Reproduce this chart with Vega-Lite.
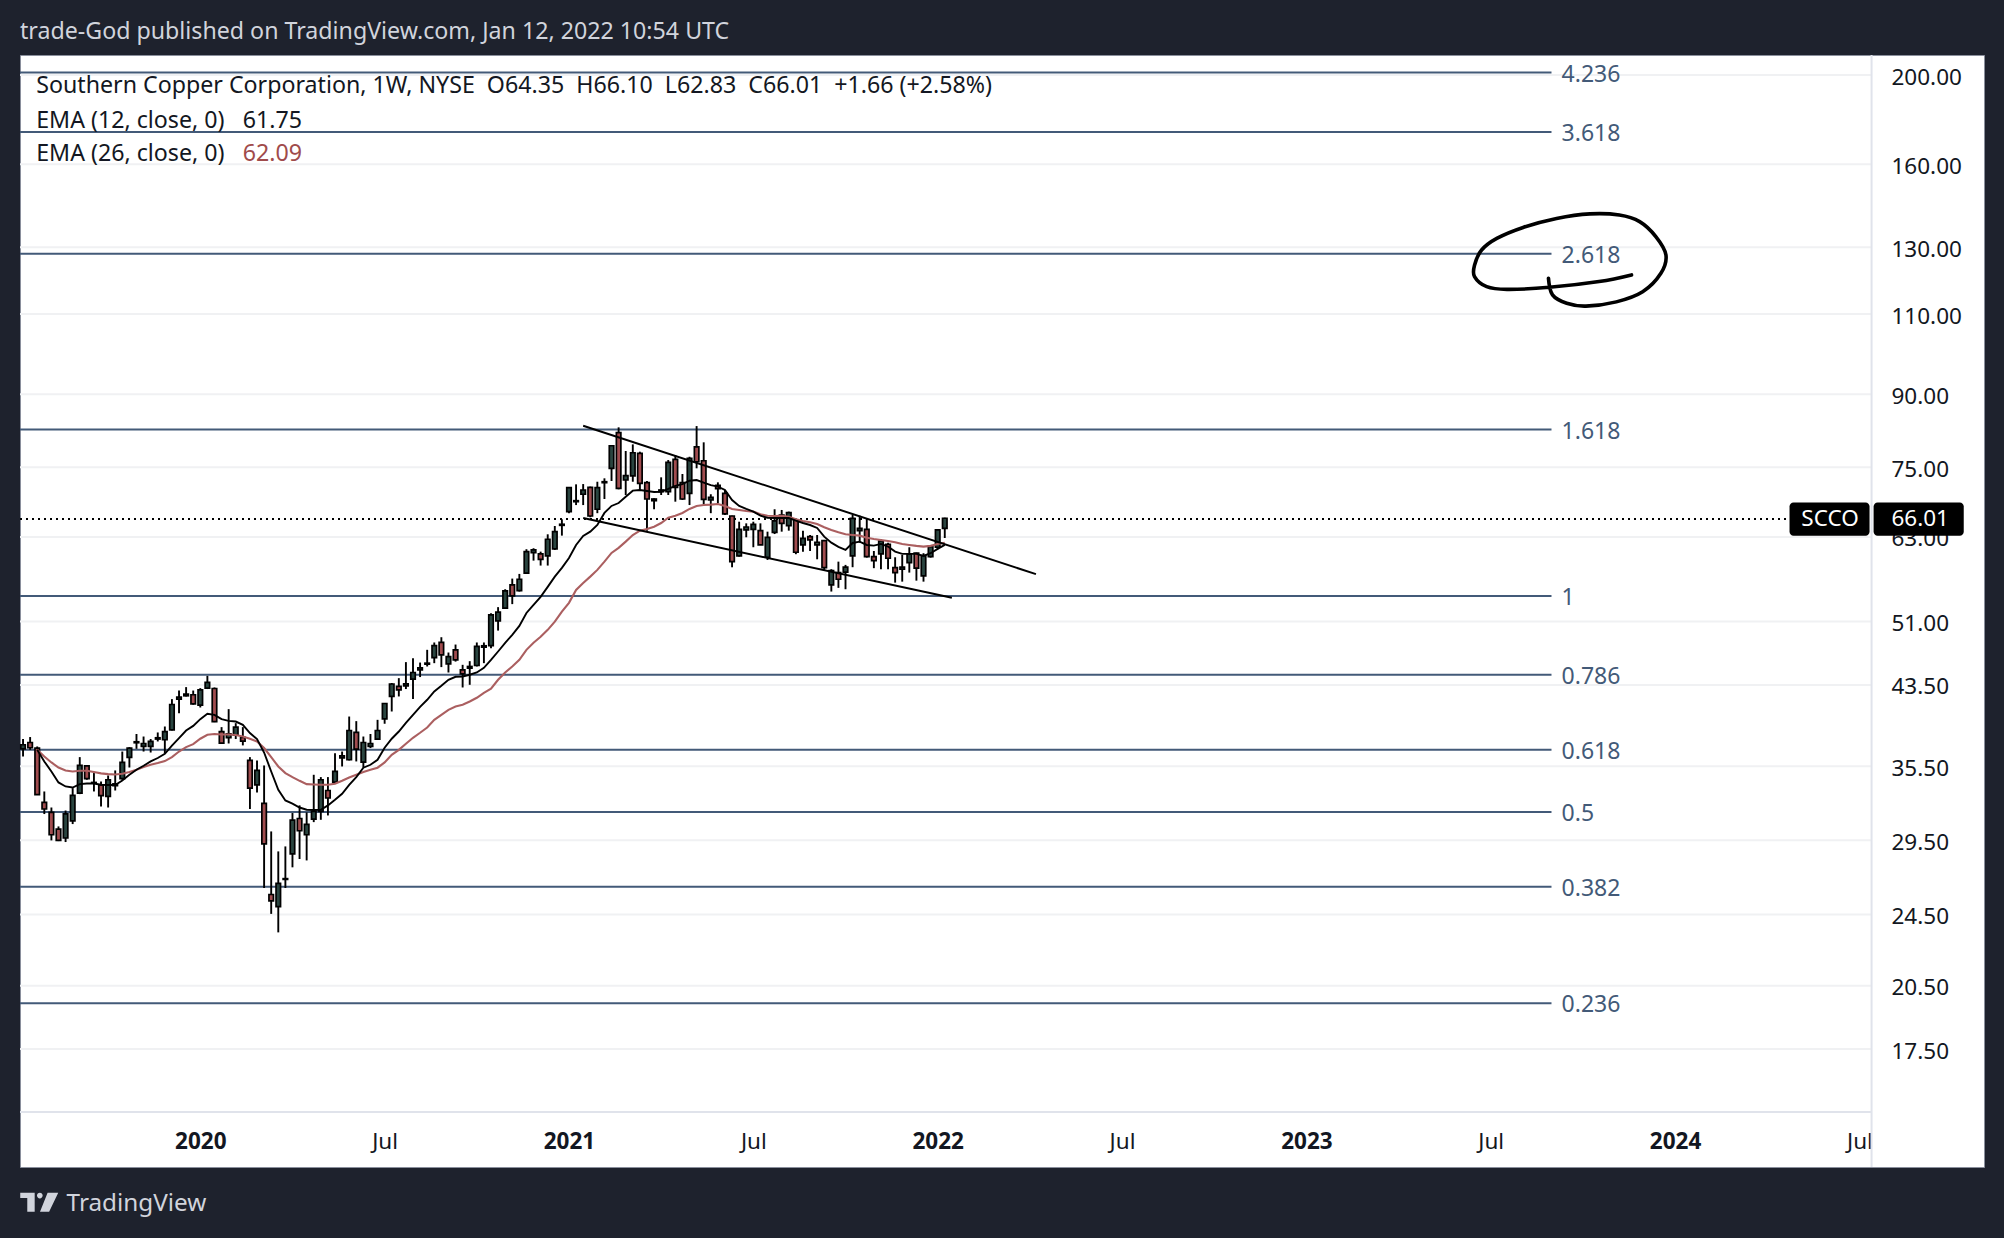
{"$schema":"https://vega.github.io/schema/vega-lite/v6.json","width":1964,"height":1112,"autosize":"none","padding":{"left":20,"top":55,"right":20,"bottom":71},"background":"#1e222d","view":{"fill":"#ffffff","stroke":"#8a8f9c","strokeWidth":1},
"title":{"text":"trade-God published on TradingView.com, Jan 12, 2022 10:54 UTC","anchor":"start","frame":"group","font":"Noto Sans","fontSize":23.2,"fontWeight":"normal","color":"#d1d4dc","offset":10},
"config":{"text":{"font":"Noto Sans"},"axis":{"labelFont":"Noto Sans","labelFontSize":22.5,"labelColor":"#131722","ticks":false,"domain":false,"grid":false,"title":null}},
"datasets":{
"grid":[{"price":200,"start":"2019-07-12","end":"2024-07-13"},{"price":160,"start":"2019-07-12","end":"2024-07-13"},{"price":130,"start":"2019-07-12","end":"2024-07-13"},{"price":110,"start":"2019-07-12","end":"2024-07-13"},{"price":90,"start":"2019-07-12","end":"2024-07-13"},{"price":75,"start":"2019-07-12","end":"2024-07-13"},{"price":63,"start":"2019-07-12","end":"2024-07-13"},{"price":51,"start":"2019-07-12","end":"2024-07-13"},{"price":43.5,"start":"2019-07-12","end":"2024-07-13"},{"price":35.5,"start":"2019-07-12","end":"2024-07-13"},{"price":29.5,"start":"2019-07-12","end":"2024-07-13"},{"price":24.5,"start":"2019-07-12","end":"2024-07-13"},{"price":20.5,"start":"2019-07-12","end":"2024-07-13"},{"price":17.5,"start":"2019-07-12","end":"2024-07-13"}],
"fib":[{"level":"4.236","price":201.2,"start":"2019-07-12","end":"2023-09-01","label":"2023-09-11"},{"level":"3.618","price":173.4,"start":"2019-07-12","end":"2023-09-01","label":"2023-09-11"},{"level":"2.618","price":127.9,"start":"2019-07-12","end":"2023-09-01","label":"2023-09-11"},{"level":"1.618","price":82.4,"start":"2019-07-12","end":"2023-09-01","label":"2023-09-11"},{"level":"1","price":54.33,"start":"2019-07-12","end":"2023-09-01","label":"2023-09-11"},{"level":"0.786","price":44.62,"start":"2019-07-12","end":"2023-09-01","label":"2023-09-11"},{"level":"0.618","price":37.0,"start":"2019-07-12","end":"2023-09-01","label":"2023-09-11"},{"level":"0.5","price":31.66,"start":"2019-07-12","end":"2023-09-01","label":"2023-09-11"},{"level":"0.382","price":26.27,"start":"2019-07-12","end":"2023-09-01","label":"2023-09-11"},{"level":"0.236","price":19.62,"start":"2019-07-12","end":"2023-09-01","label":"2023-09-11"}],
"candles":[
{"date":"2019-07-15","open":37.08,"high":38.0,"low":36.38,"close":37.46,"dir":"up"},
{"date":"2019-07-22","open":37.67,"high":38.19,"low":36.99,"close":37.18,"dir":"down"},
{"date":"2019-07-29","open":37.15,"high":37.3,"low":33.06,"close":33.06,"dir":"down","ema12":36.99,"ema26":36.99},
{"date":"2019-08-05","open":32.43,"high":33.33,"low":31.5,"close":31.9,"dir":"down","ema12":35.93,"ema26":36.38},
{"date":"2019-08-12","open":31.63,"high":32.02,"low":29.49,"close":29.91,"dir":"down","ema12":35.04,"ema26":35.84},
{"date":"2019-08-19","open":30.34,"high":30.54,"low":29.44,"close":29.49,"dir":"down","ema12":34.09,"ema26":35.39},
{"date":"2019-08-26","open":29.67,"high":31.78,"low":29.37,"close":31.52,"dir":"up","ema12":33.75,"ema26":35.13},
{"date":"2019-09-02","open":30.97,"high":33.61,"low":30.72,"close":33.0,"dir":"up","ema12":33.66,"ema26":35.04},
{"date":"2019-09-09","open":33.19,"high":36.32,"low":33.11,"close":35.57,"dir":"up","ema12":33.95,"ema26":35.1},
{"date":"2019-09-16","open":35.54,"high":35.57,"low":34.32,"close":34.41,"dir":"down","ema12":34.0,"ema26":35.1},
{"date":"2019-09-23","open":34.03,"high":34.9,"low":33.33,"close":34.09,"dir":"up","ema12":34.0,"ema26":34.99},
{"date":"2019-09-30","open":33.89,"high":34.17,"low":32.11,"close":32.98,"dir":"down","ema12":33.89,"ema26":34.87},
{"date":"2019-10-07","open":32.92,"high":34.69,"low":32.02,"close":34.32,"dir":"up","ema12":33.87,"ema26":34.81},
{"date":"2019-10-14","open":33.81,"high":35.13,"low":33.41,"close":33.98,"dir":"up","ema12":33.87,"ema26":34.78},
{"date":"2019-10-21","open":34.41,"high":36.83,"low":34.32,"close":35.84,"dir":"up","ema12":34.26,"ema26":34.84},
{"date":"2019-10-28","open":36.29,"high":37.24,"low":35.39,"close":37.15,"dir":"up","ema12":34.75,"ema26":34.99},
{"date":"2019-11-04","open":37.65,"high":38.48,"low":37.08,"close":37.74,"dir":"up","ema12":35.19,"ema26":35.19},
{"date":"2019-11-11","open":37.3,"high":38.24,"low":36.83,"close":37.58,"dir":"up","ema12":35.54,"ema26":35.43},
{"date":"2019-11-18","open":37.3,"high":38.0,"low":36.74,"close":37.77,"dir":"up","ema12":35.93,"ema26":35.63},
{"date":"2019-11-25","open":38.0,"high":38.63,"low":37.77,"close":38.12,"dir":"up","ema12":36.24,"ema26":35.78},
{"date":"2019-12-02","open":37.93,"high":39.21,"low":36.68,"close":38.72,"dir":"up","ema12":36.62,"ema26":35.96},
{"date":"2019-12-09","open":38.89,"high":41.99,"low":38.82,"close":41.43,"dir":"up","ema12":37.37,"ema26":36.32},
{"date":"2019-12-16","open":41.99,"high":42.9,"low":40.54,"close":42.2,"dir":"up","ema12":38.09,"ema26":36.83},
{"date":"2019-12-23","open":42.34,"high":43.27,"low":42.27,"close":42.52,"dir":"up","ema12":38.82,"ema26":37.24},
{"date":"2019-12-30","open":42.45,"high":42.9,"low":41.4,"close":41.5,"dir":"down","ema12":39.27,"ema26":37.52},
{"date":"2020-01-06","open":41.37,"high":43.16,"low":41.12,"close":42.98,"dir":"up","ema12":39.94,"ema26":38.03},
{"date":"2020-01-13","open":43.16,"high":44.51,"low":43.06,"close":43.78,"dir":"up","ema12":40.48,"ema26":38.41},
{"date":"2020-01-20","open":43.12,"high":43.23,"low":39.64,"close":39.7,"dir":"down","ema12":40.37,"ema26":38.48},
{"date":"2020-01-27","open":38.72,"high":39.15,"low":37.61,"close":37.61,"dir":"down","ema12":39.94,"ema26":38.44},
{"date":"2020-02-03","open":38.12,"high":40.95,"low":37.58,"close":38.5,"dir":"up","ema12":39.77,"ema26":38.44},
{"date":"2020-02-10","open":38.38,"high":39.54,"low":38.0,"close":39.15,"dir":"up","ema12":39.7,"ema26":38.38},
{"date":"2020-02-17","open":38.15,"high":39.15,"low":37.4,"close":37.8,"dir":"down","ema12":39.38,"ema26":38.24},
{"date":"2020-02-24","open":36.02,"high":36.32,"low":31.9,"close":33.61,"dir":"down","ema12":38.57,"ema26":38.03},
{"date":"2020-03-02","open":33.89,"high":36.02,"low":33.25,"close":35.13,"dir":"up","ema12":38.0,"ema26":37.77},
{"date":"2020-03-09","open":32.35,"high":35.57,"low":26.18,"close":29.24,"dir":"down","ema12":36.74,"ema26":37.15},
{"date":"2020-03-16","open":25.76,"high":30.16,"low":24.54,"close":25.35,"dir":"down","ema12":35.04,"ema26":36.32},
{"date":"2020-03-23","open":24.99,"high":28.69,"low":23.43,"close":26.49,"dir":"up","ema12":33.47,"ema26":35.48},
{"date":"2020-03-30","open":26.75,"high":29.05,"low":26.18,"close":26.8,"dir":"up","ema12":32.59,"ema26":34.9},
{"date":"2020-04-06","open":28.52,"high":31.58,"low":27.57,"close":31.03,"dir":"up","ema12":32.33,"ema26":34.55},
{"date":"2020-04-13","open":31.15,"high":32.19,"low":28.15,"close":30.21,"dir":"down","ema12":32.02,"ema26":34.23},
{"date":"2020-04-20","open":29.91,"high":31.63,"low":28.05,"close":30.69,"dir":"up","ema12":31.84,"ema26":33.95},
{"date":"2020-04-27","open":31.1,"high":34.75,"low":30.87,"close":31.71,"dir":"up","ema12":31.82,"ema26":33.92},
{"date":"2020-05-04","open":31.71,"high":34.55,"low":31.05,"close":34.32,"dir":"up","ema12":31.84,"ema26":33.89},
{"date":"2020-05-11","open":33.41,"high":34.55,"low":31.39,"close":32.79,"dir":"down","ema12":32.19,"ema26":33.89},
{"date":"2020-05-18","open":34.12,"high":36.68,"low":34.03,"close":35.04,"dir":"up","ema12":32.65,"ema26":33.98},
{"date":"2020-05-25","open":36.26,"high":36.83,"low":35.48,"close":36.44,"dir":"up","ema12":33.14,"ema26":34.23},
{"date":"2020-06-01","open":36.08,"high":40.2,"low":36.02,"close":38.82,"dir":"up","ema12":33.89,"ema26":34.52},
{"date":"2020-06-08","open":38.63,"high":39.74,"low":35.93,"close":37.06,"dir":"down","ema12":34.55,"ema26":34.75},
{"date":"2020-06-15","open":35.87,"high":38.24,"low":35.39,"close":37.67,"dir":"up","ema12":35.37,"ema26":34.99},
{"date":"2020-06-22","open":37.3,"high":38.48,"low":37.15,"close":37.58,"dir":"up","ema12":35.63,"ema26":35.19},
{"date":"2020-06-29","open":38.0,"high":39.87,"low":38.0,"close":38.82,"dir":"up","ema12":36.08,"ema26":35.37},
{"date":"2020-07-06","open":39.97,"high":41.53,"low":39.48,"close":41.53,"dir":"up","ema12":37.18,"ema26":35.84},
{"date":"2020-07-13","open":42.27,"high":43.72,"low":40.71,"close":43.61,"dir":"up","ema12":38.03,"ema26":36.53},
{"date":"2020-07-20","open":43.34,"high":44.25,"low":42.27,"close":42.98,"dir":"down","ema12":38.72,"ema26":36.99},
{"date":"2020-07-27","open":43.41,"high":46.06,"low":43.06,"close":43.63,"dir":"up","ema12":39.57,"ema26":37.55},
{"date":"2020-08-03","open":44.15,"high":46.51,"low":41.99,"close":44.88,"dir":"up","ema12":40.37,"ema26":38.12},
{"date":"2020-08-10","open":45.18,"high":46.01,"low":44.37,"close":45.41,"dir":"up","ema12":41.19,"ema26":38.6},
{"date":"2020-08-17","open":45.83,"high":47.5,"low":45.56,"close":45.94,"dir":"up","ema12":41.92,"ema26":39.11},
{"date":"2020-08-24","open":46.59,"high":48.38,"low":45.94,"close":48.01,"dir":"up","ema12":42.8,"ema26":39.87},
{"date":"2020-08-31","open":48.38,"high":49.02,"low":45.49,"close":46.9,"dir":"down","ema12":43.41,"ema26":40.37},
{"date":"2020-09-07","open":45.86,"high":47.18,"low":44.88,"close":46.7,"dir":"up","ema12":44.07,"ema26":40.88},
{"date":"2020-09-14","open":47.5,"high":48.13,"low":46.12,"close":46.32,"dir":"down","ema12":44.4,"ema26":41.22},
{"date":"2020-09-21","open":45.18,"high":45.75,"low":43.23,"close":44.73,"dir":"down","ema12":44.44,"ema26":41.4},
{"date":"2020-09-28","open":45.37,"high":46.17,"low":43.52,"close":45.56,"dir":"up","ema12":44.63,"ema26":41.74},
{"date":"2020-10-05","open":45.67,"high":48.38,"low":45.56,"close":47.9,"dir":"up","ema12":44.88,"ema26":42.13},
{"date":"2020-10-12","open":47.82,"high":48.38,"low":45.94,"close":47.98,"dir":"up","ema12":45.41,"ema26":42.66},
{"date":"2020-10-19","open":48.01,"high":52.06,"low":47.7,"close":51.84,"dir":"up","ema12":46.32,"ema26":43.09},
{"date":"2020-10-26","open":51.06,"high":52.85,"low":49.84,"close":52.19,"dir":"up","ema12":47.3,"ema26":44.07},
{"date":"2020-11-02","open":52.71,"high":55.27,"low":52.71,"close":55.04,"dir":"up","ema12":48.34,"ema26":44.88},
{"date":"2020-11-09","open":55.87,"high":56.76,"low":53.25,"close":54.36,"dir":"down","ema12":49.31,"ema26":45.56},
{"date":"2020-11-16","open":55.08,"high":57.43,"low":54.95,"close":56.67,"dir":"up","ema12":50.43,"ema26":46.32},
{"date":"2020-11-23","open":57.53,"high":61.09,"low":57.53,"close":60.72,"dir":"up","ema12":52.09,"ema26":47.5},
{"date":"2020-11-30","open":60.57,"high":61.24,"low":59.37,"close":60.98,"dir":"up","ema12":53.15,"ema26":48.34},
{"date":"2020-12-07","open":60.38,"high":60.72,"low":58.64,"close":59.57,"dir":"down","ema12":54.22,"ema26":49.07},
{"date":"2020-12-14","open":60.07,"high":63.41,"low":58.64,"close":62.63,"dir":"up","ema12":55.6,"ema26":49.93},
{"date":"2020-12-21","open":61.13,"high":64.74,"low":60.98,"close":63.83,"dir":"up","ema12":57.04,"ema26":50.97},
{"date":"2020-12-28","open":64.85,"high":65.83,"low":63.2,"close":65.02,"dir":"up","ema12":58.3,"ema26":52.27},
{"date":"2021-01-04","open":67.11,"high":71.32,"low":66.85,"close":71.25,"dir":"up","ema12":59.77,"ema26":53.42},
{"date":"2021-01-11","open":68.8,"high":71.85,"low":68.22,"close":68.97,"dir":"up","ema12":61.74,"ema26":55.18},
{"date":"2021-01-18","open":70.09,"high":71.9,"low":68.22,"close":70.84,"dir":"up","ema12":63.15,"ema26":56.15},
{"date":"2021-01-25","open":71.32,"high":71.44,"low":66.17,"close":66.38,"dir":"down","ema12":63.83,"ema26":57.04},
{"date":"2021-02-01","open":67.51,"high":72.32,"low":66.85,"close":71.25,"dir":"up","ema12":64.9,"ema26":58.01},
{"date":"2021-02-08","open":72.15,"high":72.94,"low":69.26,"close":72.32,"dir":"up","ema12":66.89,"ema26":59.22},
{"date":"2021-02-15","open":74.79,"high":79.27,"low":72.45,"close":79.13,"dir":"up","ema12":68.07,"ema26":60.52},
{"date":"2021-02-22","open":81.75,"high":82.86,"low":70.96,"close":71.14,"dir":"down","ema12":68.57,"ema26":61.29},
{"date":"2021-03-01","open":72.63,"high":78.1,"low":69.96,"close":73.42,"dir":"up","ema12":69.66,"ema26":62.26},
{"date":"2021-03-08","open":73.37,"high":79.4,"low":72.32,"close":77.76,"dir":"up","ema12":70.72,"ema26":63.3},
{"date":"2021-03-15","open":77.64,"high":77.96,"low":70.84,"close":72.03,"dir":"down","ema12":70.84,"ema26":63.99},
{"date":"2021-03-22","open":72.15,"high":72.45,"low":63.99,"close":69.26,"dir":"down","ema12":70.66,"ema26":64.26},
{"date":"2021-03-29","open":68.97,"high":69.38,"low":67.51,"close":69.26,"dir":"up","ema12":70.49,"ema26":64.63},
{"date":"2021-04-05","open":70.54,"high":73.12,"low":69.96,"close":70.84,"dir":"up","ema12":70.54,"ema26":65.23},
{"date":"2021-04-12","open":70.54,"high":76.35,"low":69.96,"close":75.9,"dir":"up","ema12":71.02,"ema26":66.1},
{"date":"2021-04-19","open":76.48,"high":77.31,"low":68.8,"close":71.32,"dir":"down","ema12":71.56,"ema26":66.43},
{"date":"2021-04-26","open":72.15,"high":73.73,"low":69.09,"close":69.26,"dir":"down","ema12":71.9,"ema26":66.89},
{"date":"2021-05-03","open":70.26,"high":76.98,"low":68.22,"close":76.67,"dir":"up","ema12":72.5,"ema26":67.56},
{"date":"2021-05-10","open":78.92,"high":83.12,"low":74.79,"close":76.03,"dir":"down","ema12":72.63,"ema26":68.07},
{"date":"2021-05-17","open":76.22,"high":79.81,"low":68.39,"close":69.21,"dir":"down","ema12":72.15,"ema26":68.22},
{"date":"2021-05-24","open":69.09,"high":70.09,"low":66.85,"close":69.56,"dir":"up","ema12":71.72,"ema26":68.29},
{"date":"2021-05-31","open":71.69,"high":72.21,"low":68.52,"close":71.07,"dir":"down","ema12":71.44,"ema26":68.39},
{"date":"2021-06-07","open":70.26,"high":70.84,"low":66.55,"close":66.72,"dir":"down","ema12":70.84,"ema26":68.07},
{"date":"2021-06-14","open":66.38,"high":66.43,"low":58.39,"close":59.22,"dir":"down","ema12":69.09,"ema26":67.56},
{"date":"2021-06-21","open":60.07,"high":65.44,"low":59.96,"close":64.21,"dir":"up","ema12":68.07,"ema26":67.39},
{"date":"2021-06-28","open":64.1,"high":65.17,"low":62.94,"close":64.58,"dir":"up","ema12":67.56,"ema26":67.22},
{"date":"2021-07-05","open":64.21,"high":65.44,"low":61.39,"close":65.02,"dir":"up","ema12":67.11,"ema26":67.11},
{"date":"2021-07-12","open":63.99,"high":65.17,"low":61.74,"close":61.74,"dir":"down","ema12":66.43,"ema26":66.67},
{"date":"2021-07-19","open":59.87,"high":63.83,"low":59.47,"close":62.94,"dir":"up","ema12":66.1,"ema26":66.43},
{"date":"2021-07-26","open":63.73,"high":67.51,"low":63.45,"close":65.56,"dir":"up","ema12":66.05,"ema26":66.38},
{"date":"2021-08-02","open":66.55,"high":67.39,"low":63.83,"close":65.17,"dir":"down","ema12":66.05,"ema26":66.43},
{"date":"2021-08-09","open":64.79,"high":67.11,"low":63.99,"close":66.94,"dir":"up","ema12":66.05,"ema26":66.26},
{"date":"2021-08-16","open":65.72,"high":66.0,"low":60.33,"close":60.63,"dir":"down","ema12":65.6,"ema26":65.83},
{"date":"2021-08-23","open":61.74,"high":63.99,"low":60.72,"close":62.78,"dir":"up","ema12":65.23,"ema26":65.56},
{"date":"2021-08-30","open":63.04,"high":63.3,"low":60.82,"close":62.52,"dir":"down","ema12":64.9,"ema26":65.34},
{"date":"2021-09-06","open":61.74,"high":63.3,"low":59.57,"close":62.16,"dir":"up","ema12":64.42,"ema26":65.06},
{"date":"2021-09-13","open":62.41,"high":62.52,"low":58.01,"close":58.34,"dir":"down","ema12":63.04,"ema26":64.53},
{"date":"2021-09-20","open":55.87,"high":58.11,"low":54.95,"close":57.91,"dir":"up","ema12":62.1,"ema26":64.1},
{"date":"2021-09-27","open":57.62,"high":59.22,"low":55.46,"close":56.67,"dir":"down","ema12":61.44,"ema26":63.73},
{"date":"2021-10-04","open":57.68,"high":58.74,"low":55.27,"close":58.4,"dir":"up","ema12":60.98,"ema26":63.41},
{"date":"2021-10-11","open":60.07,"high":66.55,"low":58.4,"close":66.0,"dir":"up","ema12":62.05,"ema26":63.3},
{"date":"2021-10-18","open":63.99,"high":66.43,"low":62.1,"close":64.37,"dir":"up","ema12":62.26,"ema26":63.2},
{"date":"2021-10-25","open":64.21,"high":66.0,"low":59.82,"close":59.96,"dir":"down","ema12":61.74,"ema26":62.88},
{"date":"2021-11-01","open":59.96,"high":60.82,"low":58.26,"close":59.37,"dir":"down","ema12":61.64,"ema26":62.67},
{"date":"2021-11-08","open":60.38,"high":62.63,"low":58.11,"close":62.36,"dir":"up","ema12":61.9,"ema26":62.52},
{"date":"2021-11-15","open":61.85,"high":62.1,"low":58.11,"close":59.72,"dir":"down","ema12":61.49,"ema26":62.36},
{"date":"2021-11-22","open":58.34,"high":59.87,"low":56.19,"close":57.62,"dir":"down","ema12":60.72,"ema26":62.16},
{"date":"2021-11-29","open":58.11,"high":60.22,"low":56.33,"close":58.4,"dir":"up","ema12":60.38,"ema26":61.9},
{"date":"2021-12-06","open":59.07,"high":61.39,"low":57.62,"close":60.33,"dir":"up","ema12":60.38,"ema26":61.74},
{"date":"2021-12-13","open":60.48,"high":60.57,"low":56.47,"close":58.26,"dir":"down","ema12":60.38,"ema26":61.6},
{"date":"2021-12-20","open":57.14,"high":60.48,"low":56.33,"close":60.12,"dir":"up","ema12":60.07,"ema26":61.49},
{"date":"2021-12-27","open":59.96,"high":61.6,"low":59.82,"close":61.49,"dir":"up","ema12":60.48,"ema26":61.6},
{"date":"2022-01-03","open":61.39,"high":64.26,"low":61.09,"close":64.1,"dir":"up","ema12":61.13,"ema26":61.9},
{"date":"2022-01-10","open":64.35,"high":66.1,"low":62.83,"close":66.01,"dir":"up","ema12":61.75,"ema26":62.09}
],
"channel":[{"name":"upper","date":"2021-01-18","price":83.2},{"name":"upper","date":"2022-04-10","price":57.4},{"name":"lower","date":"2021-01-18","price":66.04},{"name":"lower","date":"2022-01-17","price":54.1}],
"scribble":[{"seq":1,"date":"2023-11-19","price":121.3},{"seq":2,"date":"2023-10-18","price":119.3},{"seq":3,"date":"2023-08-30","price":117.6},{"seq":4,"date":"2023-07-19","price":117.0},{"seq":5,"date":"2023-06-29","price":117.8},{"seq":6,"date":"2023-06-17","price":120.8},{"seq":7,"date":"2023-06-17","price":124.3},{"seq":8,"date":"2023-06-24","price":129.1},{"seq":9,"date":"2023-07-09","price":132.9},{"seq":10,"date":"2023-08-04","price":136.6},{"seq":11,"date":"2023-09-06","price":139.7},{"seq":12,"date":"2023-10-09","price":141.3},{"seq":13,"date":"2023-11-07","price":140.9},{"seq":14,"date":"2023-11-27","price":138.6},{"seq":15,"date":"2023-12-13","price":133.5},{"seq":16,"date":"2023-12-23","price":127.5},{"seq":17,"date":"2023-12-18","price":121.8},{"seq":18,"date":"2023-11-30","price":116.3},{"seq":19,"date":"2023-11-04","price":113.4},{"seq":20,"date":"2023-10-05","price":112.2},{"seq":21,"date":"2023-09-16","price":113.0},{"seq":22,"date":"2023-09-02","price":115.4},{"seq":23,"date":"2023-08-29","price":120.3}],
"legend":[{"text":"Southern Copper Corporation, 1W, NYSE\u00a0\u00a0O64.35\u00a0\u00a0H66.10\u00a0\u00a0L62.83\u00a0\u00a0C66.01\u00a0\u00a0+1.66 (+2.58%)","date":"2019-07-28","price":195.4},{"text":"EMA (12, close, 0)","date":"2019-07-28","price":179.2},{"text":"61.75","date":"2020-02-17","price":179.2},{"text":"EMA (26, close, 0)","date":"2019-07-28","price":165.0}]
},
"layer":[
{"data":{"name":"grid"},"mark":{"type":"rule","color":"#f0f1f3","strokeWidth":2},"encoding":{
"x":{"field":"start","type":"temporal","title":null,"scale":{"type":"utc","nice":false,"padding":0,"domain":[{"year":2019,"month":7,"date":12,"utc":true},{"year":2024,"month":11,"date":1,"utc":true}]},"axis":{"orient":"bottom","offset":-55,"labelPadding":18,"labelOverlap":false,"labelFlush":false,"labelBound":false,"values":[{"year":2020,"month":1,"date":6,"utc":true},{"year":2020,"month":7,"date":6,"utc":true},{"year":2021,"month":1,"date":4,"utc":true},{"year":2021,"month":7,"date":5,"utc":true},{"year":2022,"month":1,"date":3,"utc":true},{"year":2022,"month":7,"date":4,"utc":true},{"year":2023,"month":1,"date":2,"utc":true},{"year":2023,"month":7,"date":3,"utc":true},{"year":2024,"month":1,"date":1,"utc":true},{"year":2024,"month":7,"date":1,"utc":true}],"labelExpr":"utcmonth(datum.value)==0 ? utcFormat(datum.value,'%Y') : 'Jul'","labelFontWeight":{"condition":{"test":"utcmonth(datum.value)==0","value":"bold"},"value":"normal"}}},
"x2":{"field":"end"},
"y":{"field":"price","type":"quantitative","title":null,"scale":{"type":"log","nice":false,"zero":false,"padding":0,"domain":[13.03,210.26]},"axis":{"orient":"right","offset":-112,"labelPadding":19,"labelOffset":2,"values":[200,160,130,110,90,75,63,51,43.5,35.5,29.5,24.5,20.5,17.5],"format":".2f","labelOverlap":false,"labelBound":false,"labelFlush":false}}}},
{"data":{"values":[{"start":"2024-07-13","end":"2024-11-01","top":14.95,"bottom":13.03}]},"mark":{"type":"rect","color":"#ffffff"},"encoding":{"x":{"field":"start","type":"temporal"},"x2":{"field":"end"},"y":{"field":"top","type":"quantitative"},"y2":{"field":"bottom"}}},
{"data":{"values":[{"price":14.95,"start":"2019-07-12","end":"2024-07-13"}]},"mark":{"type":"rule","color":"#e0e3eb","strokeWidth":2},"encoding":{"x":{"field":"start","type":"temporal"},"x2":{"field":"end"},"y":{"field":"price","type":"quantitative"}}},
{"data":{"values":[{"date":"2024-07-13","top":210.26,"bottom":13.03}]},"mark":{"type":"rule","color":"#e0e3eb","strokeWidth":2},"encoding":{"x":{"field":"date","type":"temporal"},"y":{"field":"top","type":"quantitative"},"y2":{"field":"bottom"}}},
{"data":{"name":"fib"},"mark":{"type":"rule","color":"#435a78","strokeWidth":2},"encoding":{"x":{"field":"start","type":"temporal"},"x2":{"field":"end"},"y":{"field":"price","type":"quantitative"}}},
{"data":{"name":"fib"},"mark":{"type":"text","align":"left","baseline":"middle","dy":2,"fontSize":23,"color":"#435a78"},"encoding":{"x":{"field":"label","type":"temporal"},"y":{"field":"price","type":"quantitative"},"text":{"field":"level"}}},
{"data":{"values":[{"price":65.9,"start":"2019-07-12","end":"2024-04-23"}]},"mark":{"type":"rule","color":"#000000","strokeWidth":2,"strokeDash":[2,4]},"encoding":{"x":{"field":"start","type":"temporal"},"x2":{"field":"end"},"y":{"field":"price","type":"quantitative"}}},
{"data":{"name":"candles"},"mark":{"type":"rule","color":"#000000","strokeWidth":1.9},"encoding":{"x":{"field":"date","type":"temporal"},"y":{"field":"high","type":"quantitative"},"y2":{"field":"low"}}},
{"data":{"name":"candles"},"mark":{"type":"bar","size":4.5,"stroke":"#000000","strokeWidth":1.7},"encoding":{"x":{"field":"date","type":"temporal"},"y":{"field":"open","type":"quantitative","stack":null},"y2":{"field":"close"},"color":{"field":"dir","type":"nominal","scale":{"domain":["up","down"],"range":["#2a4540","#a14c4f"]},"legend":null}}},
{"data":{"name":"candles"},"mark":{"type":"line","color":"#ab5f60","strokeWidth":2.1},"encoding":{"x":{"field":"date","type":"temporal"},"y":{"field":"ema26","type":"quantitative"}}},
{"data":{"name":"candles"},"mark":{"type":"line","color":"#000000","strokeWidth":1.9},"encoding":{"x":{"field":"date","type":"temporal"},"y":{"field":"ema12","type":"quantitative"}}},
{"data":{"name":"channel"},"mark":{"type":"line","color":"#000000","strokeWidth":2},"encoding":{"x":{"field":"date","type":"temporal"},"y":{"field":"price","type":"quantitative"},"detail":{"field":"name"}}},
{"data":{"name":"scribble"},"mark":{"type":"line","color":"#000000","strokeWidth":3.6,"interpolate":"cardinal","strokeCap":"round"},"encoding":{"x":{"field":"date","type":"temporal"},"y":{"field":"price","type":"quantitative"},"order":{"field":"seq"}}},
{"data":{"name":"legend"},"mark":{"type":"text","align":"left","baseline":"middle","dy":2,"fontSize":23.2,"color":"#131722"},"encoding":{"x":{"field":"date","type":"temporal"},"y":{"field":"price","type":"quantitative"},"text":{"field":"text"}}},
{"data":{"values":[{"text":"62.09","date":"2020-02-17","price":165.0}]},"mark":{"type":"text","align":"left","baseline":"middle","dy":2,"fontSize":23.2,"color":"#a04b4b"},"encoding":{"x":{"field":"date","type":"temporal"},"y":{"field":"price","type":"quantitative"},"text":{"field":"text"}}},
{"data":{"values":[{"start":"2024-04-23","end":"2024-07-11","top":68.68,"bottom":63.18},{"start":"2024-07-15","end":"2024-10-12","top":68.68,"bottom":63.18}]},"mark":{"type":"rect","color":"#000000","cornerRadius":4},"encoding":{"x":{"field":"start","type":"temporal"},"x2":{"field":"end"},"y":{"field":"top","type":"quantitative"},"y2":{"field":"bottom"}}},
{"data":{"values":[{"text":"SCCO","date":"2024-06-02","price":66.01},{"text":"66.01","date":"2024-08-30","price":66.01}]},"mark":{"type":"text","align":"center","baseline":"middle","dy":1,"fontSize":22.5,"color":"#ffffff"},"encoding":{"x":{"field":"date","type":"temporal"},"y":{"field":"price","type":"quantitative"},"text":{"field":"text"}}},
{"data":{"values":[{"text":"TradingView","date":"2019-08-27","price":11.87}]},"mark":{"type":"text","align":"left","baseline":"middle","fontSize":24.3,"color":"#d1d4dc"},"encoding":{"x":{"field":"date","type":"temporal"},"y":{"field":"price","type":"quantitative"},"text":{"field":"text"}}},
{"data":{"values":[{"date":"2019-07-31","price":11.93}]},"mark":{"type":"point","filled":true,"opacity":1,"size":1444,"color":"#d1d4dc","shape":"M-1,-.5L-.24,-.5L-.24,.5L-.63,.5L-.63,-.23L-1,-.23ZM-.12,-.35A.15,.15 0 1 0 .18,-.35A.15,.15 0 1 0 -.12,-.35ZM.44,-.5L1,-.5L.52,.5L.04,.5Z"},"encoding":{"x":{"field":"date","type":"temporal"},"y":{"field":"price","type":"quantitative"}}}
]}
